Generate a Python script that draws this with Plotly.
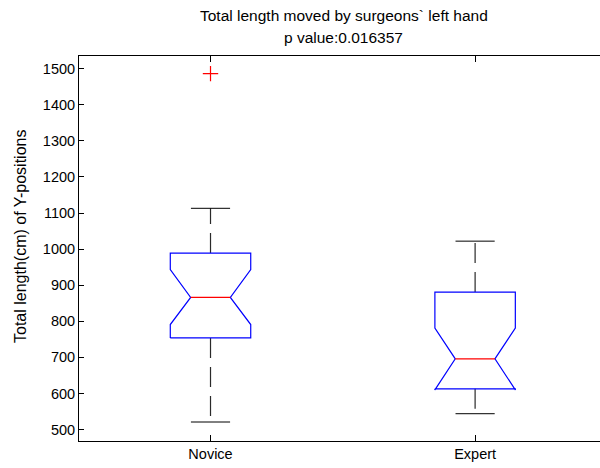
import plotly.graph_objects as go

# ---- data ----
groups = ["Novice", "Expert"]
positions = [1, 2]
upper_whisker = [1113, 1022]
q3 = [989, 881]
notch_hi = [943, 781]
median = [866, 696]
notch_lo = [791, 610]
q1 = [754, 613]
lower_whisker = [521, 544]
outliers = [[1486], []]
y_ticks = [500, 600, 700, 800, 900, 1000, 1100, 1200, 1300, 1400, 1500]

title_line1 = "Total length moved by surgeons` left hand"
title_line2 = "p value:0.016357"
y_label = "Total length(cm) of Y-positions"

# ---- style ----
BOX_HW = 0.152     # half box width (x units)
NOTCH_HW = 0.075   # half width at the median
CAP_HW = 0.074
FONT = "Liberation Sans, Arial, sans-serif"
PLOT_TOP, PLOT_H = 56, 385


def py(px):
    """pixel row -> paper y"""
    return (PLOT_TOP + PLOT_H - px) / PLOT_H


fig = go.Figure()

for i, p in enumerate(positions):
    L, R = p - BOX_HW, p + BOX_HW
    nL, nR = p - NOTCH_HW, p + NOTCH_HW
    xs = [L, L, nL, L, L, R, R, nR, R, R, L]
    ys = [q1[i], notch_lo[i], median[i], notch_hi[i], q3[i],
          q3[i], notch_hi[i], median[i], notch_lo[i], q1[i], q1[i]]
    fig.add_trace(go.Scatter(x=[p, p], y=[q3[i], upper_whisker[i]], mode="lines",
                             line=dict(color="#2a2a2a", width=1.2, dash="20px,9px"),
                             hoverinfo="skip", showlegend=False))
    fig.add_trace(go.Scatter(x=[p, p], y=[q1[i], lower_whisker[i]], mode="lines",
                             line=dict(color="#2a2a2a", width=1.2, dash="20px,9px"),
                             hoverinfo="skip", showlegend=False))
    for w in (upper_whisker[i], lower_whisker[i]):
        fig.add_trace(go.Scatter(x=[p - CAP_HW, p + CAP_HW], y=[w, w], mode="lines",
                                 line=dict(color="black", width=1),
                                 hoverinfo="skip", showlegend=False))
    fig.add_trace(go.Scatter(x=xs, y=ys, mode="lines",
                             line=dict(color="#0000ff", width=1.2),
                             hoverinfo="skip", showlegend=False))
    fig.add_trace(go.Scatter(x=[nL, nR], y=[median[i], median[i]], mode="lines",
                             line=dict(color="#ff0000", width=1.2),
                             hoverinfo="skip", showlegend=False))
    if outliers[i]:
        fig.add_trace(go.Scatter(x=[p] * len(outliers[i]), y=outliers[i], mode="markers",
                                 marker=dict(symbol="cross-thin", size=11,
                                             line=dict(color="#ff0000", width=1.2)),
                                 hoverinfo="skip", showlegend=False))

title_x = (343.5 - 79) / 521
fig.update_layout(
    width=600, height=468,
    margin=dict(l=79, r=0, t=PLOT_TOP, b=27),
    paper_bgcolor="white", plot_bgcolor="white",
    font=dict(family=FONT, size=14.5, color="black"),
    xaxis=dict(range=[0.503, 2.472], tickvals=positions, ticktext=groups,
               ticks="inside", ticklen=6, tickcolor="black", tickwidth=1,
               showline=True, linecolor="black", linewidth=1, mirror="ticks",
               showgrid=False, zeroline=False, fixedrange=True),
    yaxis=dict(range=[468.4, 1534.9], tickvals=y_ticks,
               ticks="inside", ticklen=5, tickcolor="black", tickwidth=1,
               showline=True, linecolor="black", linewidth=1, mirror=False,
               showgrid=False, zeroline=False, fixedrange=True),
    annotations=[
        dict(text=y_label, textangle=-90, xref="paper", yref="paper",
             x=(20 - 79) / 521, y=py(237), xanchor="center", yanchor="middle",
             showarrow=False, font=dict(family=FONT, size=16, color="black")),
        dict(text=title_line1, xref="paper", yref="paper", x=title_x, y=py(16),
             xanchor="center", yanchor="middle", showarrow=False,
             font=dict(family=FONT, size=15.5, color="black")),
        dict(text=title_line2, xref="paper", yref="paper", x=title_x, y=py(37),
             xanchor="center", yanchor="middle", showarrow=False,
             font=dict(family=FONT, size=15.5, color="black")),
    ],
)

fig.write_html("out.html")
